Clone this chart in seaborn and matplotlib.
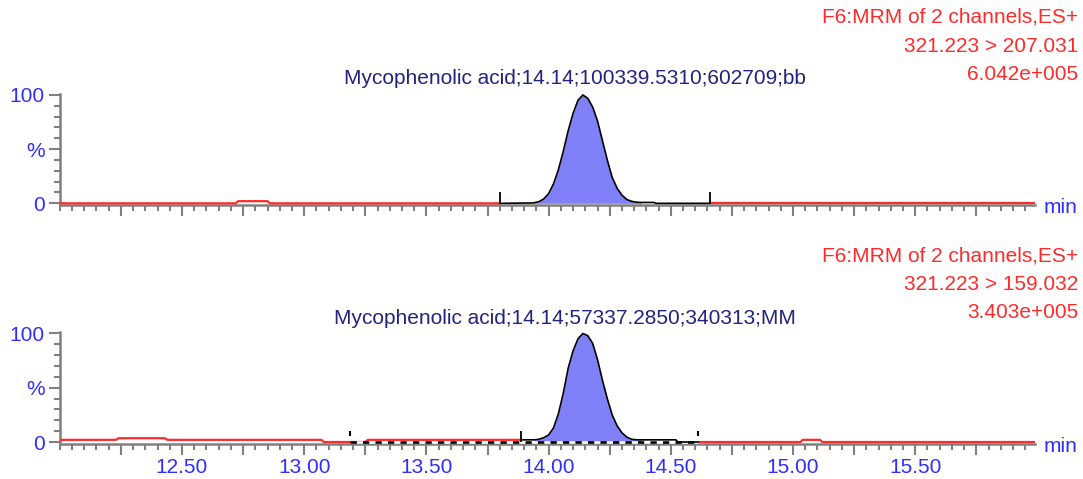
import matplotlib
matplotlib.use("Agg")
import matplotlib.pyplot as plt
import matplotlib.transforms as mtransforms
from matplotlib.ticker import FixedLocator, MultipleLocator
import numpy as np
import seaborn as sns

# peak region: retention time (min) and relative intensity (%)
peak_rt = [13.94, 13.96, 13.98, 14.00, 14.02, 14.04, 14.06, 14.08, 14.10, 14.12,
           14.14, 14.16, 14.18, 14.20, 14.22, 14.24, 14.26, 14.28, 14.30, 14.32,
           14.34, 14.36, 14.38]
peak_pct_207 = [0.5, 1.5, 4, 9, 18, 31, 48, 67, 83, 95,
                100, 97, 89, 76, 58, 40, 24, 14, 7.5, 3.5,
                1.8, 1, 0.8]
peak_pct_159 = [2, 2.5, 4, 6.5, 13, 26, 45, 68, 84, 95,
                100, 98, 91, 76, 57, 40, 25, 15, 8.5, 4.5,
                2.5, 2, 2]

# background trace outside the peak
bg_rt_207 = [12.00, 12.72, 12.73, 12.85, 12.86, 13.80, 13.93, 14.39, 14.43, 14.44, 14.66, 15.99]
bg_pct_207 = [0, 0, 2, 2, 0, 0, 0.3, 0.8, 0.8, 0, 0, 0]
bg_rt_159 = [12.00, 12.23, 12.24, 12.43, 12.44, 13.07, 13.08, 13.25, 13.26, 13.886, 13.93,
             14.39, 14.52, 14.53, 14.613, 15.03, 15.04, 15.11, 15.12, 15.99]
bg_pct_159 = [2, 2, 3.5, 3.5, 2, 2, 0, 0, 2, 2, 2,
              2, 2, 0, 0, 0, 2, 2, 0, 0]

# integration windows and markers
windows = [(13.80, 14.66), (13.886, 14.613)]
solid_marks = [[13.80, 14.66], [13.886]]
dotted_marks = [[], [13.186, 14.613]]
dashed_baseline = [None, (13.186, 14.613)]

channels = ["321.223 > 207.031", "321.223 > 159.032"]
intensities = ["6.042e+005", "3.403e+005"]
peak_labels = ["Mycophenolic acid;14.14;100339.5310;602709;bb",
               "Mycophenolic acid;14.14;57337.2850;340313;MM"]

RED = "#ff2a2a"
BLUE = "#2e2eff"
NAVY = "#22227f"
GRAY = "#808080"
FILL = "#8080f8"

sns.set_style("white")
plt.rcParams["font.family"] = ["Liberation Sans", "DejaVu Sans"]

fig = plt.figure(figsize=(10.83, 4.79), dpi=100)
ax_top = fig.add_axes([0.0552, 0.5710, 0.9005, 0.2330])
ax_bot = fig.add_axes([0.0552, 0.0727, 0.9005, 0.2334])

traces = [(bg_rt_207, bg_pct_207, peak_pct_207), (bg_rt_159, bg_pct_159, peak_pct_159)]

for i, ax in enumerate([ax_top, ax_bot]):
    bg_rt, bg_pct, pk_pct = traces[i]
    rt = np.concatenate([bg_rt, peak_rt])
    pct = np.concatenate([bg_pct, pk_pct])
    order = np.argsort(rt, kind="stable")
    rt, pct = rt[order], pct[order]
    start, end = windows[i]

    ax.fill_between(peak_rt, 0, pk_pct, color=FILL, lw=0, zorder=2)

    left = rt <= start
    mid = (rt >= start) & (rt <= end)
    right = rt >= end
    for mask in [left, right]:
        sns.lineplot(x=rt[mask], y=pct[mask], color=RED, lw=1.6, ax=ax,
                     estimator=None, sort=False, zorder=3)
    if dashed_baseline[i] is not None:
        b0, b1 = dashed_baseline[i]
        ax.plot([b0, b1], [0, 0], color="black", lw=1.8,
                linestyle=(0, (2.5, 2.5)), gapcolor="white", zorder=4)
    sns.lineplot(x=rt[mid], y=pct[mid], color="black", lw=1.2, ax=ax,
                 estimator=None, sort=False, zorder=5)

    ax.vlines(solid_marks[i], 0, 10, color="black", lw=1.3, zorder=5)
    if dotted_marks[i]:
        ax.vlines(dotted_marks[i], 5.5, 10, color="black", lw=1.5, zorder=5)

    ax.set_xlim(12.0, 15.99)
    ax.set_ylim(-2, 101)
    for side in ["top", "right"]:
        ax.spines[side].set_visible(False)
    for side in ["left", "bottom"]:
        ax.spines[side].set_color(GRAY)
        ax.spines[side].set_linewidth(1.8)

    ax.yaxis.set_major_locator(FixedLocator([0, 50, 100]))
    ax.set_yticklabels(["0", "%", "100"])
    ax.yaxis.set_minor_locator(MultipleLocator(10))
    xt = np.arange(12.25, 15.80, 0.25)
    ax.xaxis.set_major_locator(FixedLocator(xt))
    ax.xaxis.set_minor_locator(MultipleLocator(0.05))
    if i == 1:
        ax.set_xticklabels([f"{v:.2f}" if abs(v * 2 - round(v * 2)) < 1e-6 else "" for v in xt])
    else:
        ax.set_xticklabels([])
    ax.tick_params(which="both", bottom=True, left=True, direction="out")
    ax.tick_params(which="major", length=8, width=1.5, color=GRAY,
                   labelcolor=BLUE, labelsize=15, pad=3)
    ax.tick_params(which="minor", length=4, width=1.5, color=GRAY)
    ax.tick_params(axis="x", which="major", pad=2)
    ax.set_xlabel("")
    ax.set_ylabel("")

    trans = mtransforms.blended_transform_factory(ax.transAxes, ax.transData)
    ax.text(1.009, -4, "min", transform=trans, ha="left", va="center",
            color=BLUE, fontsize=15)

# header texts
fig.text(575 / 1083, 1 - 78 / 479, peak_labels[0], ha="center", va="center",
         color=NAVY, fontsize=15)
fig.text(565 / 1083, 1 - 318 / 479, peak_labels[1], ha="center", va="center",
         color=NAVY, fontsize=15)

for ys, ch, inten in [((17, 46, 75), channels[0], intensities[0]),
                      ((256, 285, 313), channels[1], intensities[1])]:
    for y, s in zip(ys, ["F6:MRM of 2 channels,ES+", ch, inten]):
        fig.text(1078 / 1083, 1 - y / 479, s, ha="right", va="center",
                 color=RED, fontsize=15)

fig.savefig("out.png", dpi=100)
plt.close(fig)
